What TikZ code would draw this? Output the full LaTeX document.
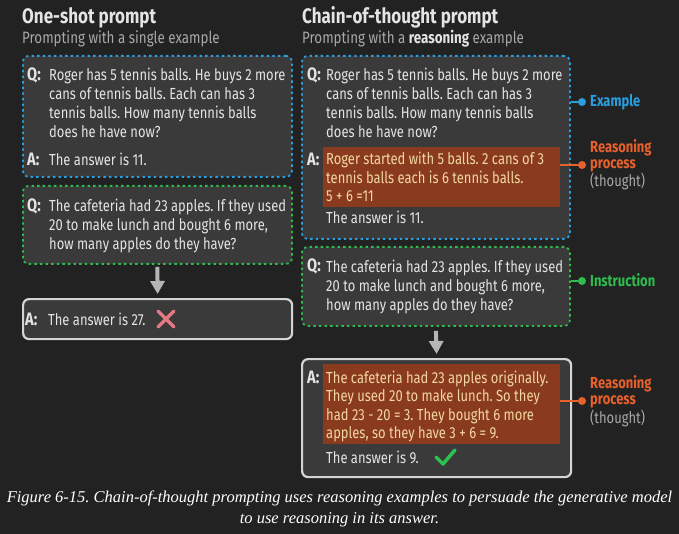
\documentclass[tikz,border=0pt]{standalone}
\usepackage{fontspec}
\setmainfont{Fira Sans}[FakeStretch=0.81]
\newfontfamily\capfont{Liberation Serif}
\usepackage{xcolor}
\usetikzlibrary{positioning,arrows.meta}
\frenchspacing

\definecolor{bgdark}{HTML}{222222}
\definecolor{boxfill}{HTML}{3A3A3A}
\definecolor{exblue}{HTML}{2A9FE0}
\definecolor{insgreen}{HTML}{2DBE4E}
\definecolor{thoughtfill}{HTML}{8A3B1F}
\definecolor{thoughtorange}{HTML}{E8612C}
\definecolor{thoughttext}{HTML}{F2D7A0}
\definecolor{bodytext}{HTML}{E4E4E4}
\definecolor{subgray}{HTML}{A8A8A8}
\definecolor{answerborder}{HTML}{D4D4D4}
\definecolor{arrowgray}{HTML}{B5B5B5}
\definecolor{wrongred}{HTML}{E57882}
\definecolor{rightgreen}{HTML}{2CC24F}

\newcommand{\bodyfont}{\fontsize{16}{19}\selectfont}

\begin{document}
\begin{tikzpicture}[x=1pt, y=-1pt,
    promptbox/.style={draw, rounded corners=6pt, fill=boxfill, line width=1.8pt,
        dash pattern=on 2.4pt off 3.2pt, anchor=north west, inner sep=0},
    examplebox/.style={promptbox, draw=exblue},
    instructbox/.style={promptbox, draw=insgreen},
    answerbox/.style={draw=answerborder, line width=2.2pt, rounded corners=6pt,
        fill=boxfill, anchor=north west, inner sep=0},
    thoughtbox/.style={fill=thoughtfill, anchor=north west, inner sep=0},
    qa/.style={font=\bodyfont\fontsize{18}{19}\selectfont\bfseries, text=bodytext, anchor=base west, inner sep=0},
    body/.style={font=\bodyfont, text=bodytext, anchor=base west, inner sep=0, align=left},
    thought/.style={body, text=thoughttext, font=\fontsize{16}{18.5}\selectfont},
    title/.style={font=\fontsize{21}{24}\selectfont\bfseries, text=bodytext, anchor=base west, inner sep=0},
    subtitle/.style={font=\fontsize{16.5}{19}\selectfont, text=subgray, anchor=base west, inner sep=0},
    sidelabel/.style={font=\fontsize{16}{16.5}\selectfont, anchor=base west, inner sep=0, align=left},
    dot/.style={circle, fill, inner sep=0, minimum size=8pt},
    flowarrow/.style={draw=arrowgray, line width=4pt, -{Triangle[width=14pt,length=13pt]}}]

    % Background
    \fill[bgdark] (0,0) rectangle (679,534);
    \useasboundingbox (0,0) rectangle (679,534);

    % Titles
    \node[title] (osTitle) at (22,24) {One-shot prompt};
    \node[subtitle] (osSub) at (22,44) {Prompting with a single example};
    \node[title] (cotTitle) at (302,24) {Chain-of-thought prompt};
    \node[subtitle] (cotSub) at (302,44) {Prompting with a {\color{bodytext}\bfseries reasoning} example};

    % One-shot column (multi-line texts sit on their last baseline)
    \node[examplebox, minimum width=269pt, minimum height=121pt] (osEx) at (22,55) {};
    \node[instructbox, minimum width=269pt, minimum height=78pt] (osIns) at (22,185) {};
    \node[answerbox, minimum width=269pt, minimum height=40pt] (osAns) at (22,298) {};
    \draw[flowarrow] (osIns.south) ++(0,2) -- (osAns.north |- 0,294);

    \node[qa] (osQ1) at (27,81) {Q:};
    \node[body] (osQ1t) at (49,138) {Roger has 5 tennis balls. He buys 2 more\\cans of tennis balls. Each can has 3\\tennis balls. How many tennis balls\\does he have now?};
    \node[qa] (osA1) at (27,166) {A:};
    \node[body] (osA1t) at (49,166) {The answer is 11.};
    \node[qa] (osQ2) at (27,212) {Q:};
    \node[body] (osQ2t) at (49,250) {The cafeteria had 23 apples. If they used\\20 to make lunch and bought 6 more,\\how many apples do they have?};
    \node[qa] (osA2) at (25,325) {A:};
    \node[body] (osA2t) at (48,325) {The answer is 27.};
    % Wrong mark
    \draw[wrongred, line width=3.5pt, line cap=round] (158,311) -- (174,327) (174,311) -- (158,327);

    % Chain-of-thought column
    \node[examplebox, minimum width=268pt, minimum height=183pt] (cotEx) at (301,55) {};
    \node[instructbox, minimum width=268pt, minimum height=79pt] (cotIns) at (301,246) {};
    \node[answerbox, minimum width=269pt, minimum height=118pt] (cotAns) at (301,358) {};
    \draw[flowarrow] (cotIns.south) ++(0,4) -- (cotAns.north |- 0,354);

    \node[thoughtbox, minimum width=237pt, minimum height=60pt] (cotThought1) at (323,147) {};
    \node[thoughtbox, minimum width=237pt, minimum height=80pt] (cotThought2) at (323,364) {};

    \node[qa] (cotQ1) at (307,81) {Q:};
    \node[body] (cotQ1t) at (326,138) {Roger has 5 tennis balls. He buys 2 more\\cans of tennis balls. Each can has 3\\tennis balls. How many tennis balls\\does he have now?};
    \node[qa] (cotA1) at (307,166) {A:};
    \node[thought] (cotA1t) at (326,202) {Roger started with 5 balls. 2 cans of 3\\tennis balls each is 6 tennis balls.\\5 + 6 =11};
    \node[body] (cotA1end) at (326,224) {The answer is 11.};
    \node[qa] (cotQ2) at (307,272) {Q:};
    \node[body] (cotQ2t) at (326,310) {The cafeteria had 23 apples. If they used\\20 to make lunch and bought 6 more,\\how many apples do they have?};
    \node[qa] (cotA2) at (307,383) {A:};
    \node[thought] (cotA2t) at (326,438.5) {The cafeteria had 23 apples originally.\\They used 20 to make lunch. So they\\had 23 - 20 = 3. They bought 6 more\\apples, so they have 3 + 6 = 9.};
    \node[body] (cotA2end) at (326,463) {The answer is 9.};
    % Right mark
    \draw[rightgreen, line width=3.5pt, line cap=round, line join=round] (436,457) -- (443,464) -- (455,450);

    % Side labels
    \node[dot, exblue] (exDot) at (582,102) {};
    \node[sidelabel, text=exblue] (exLabel) at (590,107) {\bfseries Example};
    \draw[exblue, line width=2pt] (cotEx.east |- exDot) -- (exDot);

    \node[dot, thoughtorange] (thDot1) at (582,165) {};
    \node[sidelabel] (thLabel1) at (590,187) {\color{thoughtorange}\bfseries Reasoning\\\color{thoughtorange}\bfseries process\\\color{subgray}(thought)};
    \draw[thoughtorange, line width=2pt] (cotThought1.east |- thDot1) -- (thDot1);

    \node[dot, insgreen] (insDot) at (582,281) {};
    \node[sidelabel, text=insgreen] (insLabel) at (590,287) {\bfseries Instruction};
    \draw[insgreen, line width=2pt] (cotIns.east |- insDot) -- (insDot);

    \node[dot, thoughtorange] (thDot2) at (582,401) {};
    \node[sidelabel] (thLabel2) at (590,423) {\color{thoughtorange}\bfseries Reasoning\\\color{thoughtorange}\bfseries process\\\color{subgray}(thought)};
    \draw[thoughtorange, line width=2pt] (cotThought2.east |- thDot2) -- (thDot2);

    % Caption
    \node[font=\capfont\itshape\fontsize{16.5}{21}\selectfont, text=white, align=center, anchor=base, inner sep=0] (caption) at (339.5,523) {Figure 6-15. Chain-of-thought prompting uses reasoning examples to persuade the generative model\\to use reasoning in its answer.};
\end{tikzpicture}
\end{document}
